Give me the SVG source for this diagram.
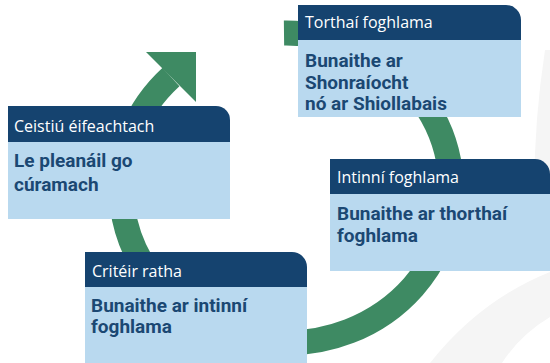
<svg xmlns="http://www.w3.org/2000/svg" width="550" height="363" viewBox="0 0 550 363">
<style>
.hd{fill:#15436f}
.bd{fill:#b9d9ef}
.ht{font-family:"Open Sans","Noto Sans",sans-serif;font-size:16px;fill:#ffffff}
.bt{font-family:Roboto,"Liberation Sans",sans-serif;font-size:19px;font-weight:700;fill:#1b4873}
.bg{fill:#f5f5f5}
</style>
<rect width="550" height="363" fill="#ffffff"/>
<g id="background">
<path class="bg" d="M545 50 Q528 160 538 270 L550 270 L550 50 Z"/>
<path class="bg" d="M430 363 Q480 300 550 272 L550 317 Q520 335 502 363 Z"/>
</g>
<g id="connectors">
<path d="M284 33 A165 155 0 1 1 171 77" fill="none" stroke="#3e8a63" stroke-width="25"/>
<polygon points="146,52 196,52 196,102" fill="#3e8a63"/>
</g>
<g id="node-torthai">
<path class="hd" d="M298 5 H506 A15 15 0 0 1 521 20 V40 H298 Z"/>
<rect class="bd" x="298" y="40" width="223" height="77"/>
<text class="ht" x="305" y="28">Torthaí foghlama</text>
<text class="bt" x="305" y="67">Bunaithe ar</text>
<text class="bt" x="305" y="88.5">Shonraíocht</text>
<text class="bt" x="305" y="110">nó ar Shiollabais</text>
</g>
<g id="node-ceistiu">
<path class="hd" d="M8 106 H216 A14 14 0 0 1 230 120 V142 H8 Z"/>
<rect class="bd" x="8" y="142" width="222" height="77"/>
<text class="ht" x="14" y="132">Ceistiú éifeachtach</text>
<text class="bt" x="14" y="167">Le pleanáil go</text>
<text class="bt" x="14" y="190.5">cúramach</text>
</g>
<g id="node-intinni">
<path class="hd" d="M330 159 H535 A15 15 0 0 1 550 174 V194 H330 Z"/>
<rect class="bd" x="330" y="194" width="220" height="77"/>
<text class="ht" x="337" y="183">Intinní foghlama</text>
<text class="bt" x="337" y="220">Bunaithe ar thorthaí</text>
<text class="bt" x="337" y="241.5">foghlama</text>
</g>
<g id="node-criteir">
<path class="hd" d="M85 252 H292 A15 15 0 0 1 307 267 V287 H85 Z"/>
<rect class="bd" x="85" y="287" width="222" height="76"/>
<text class="ht" x="92" y="277">Critéir ratha</text>
<text class="bt" x="91" y="312">Bunaithe ar intinní</text>
<text class="bt" x="91" y="333">foghlama</text>
</g>
</svg>
